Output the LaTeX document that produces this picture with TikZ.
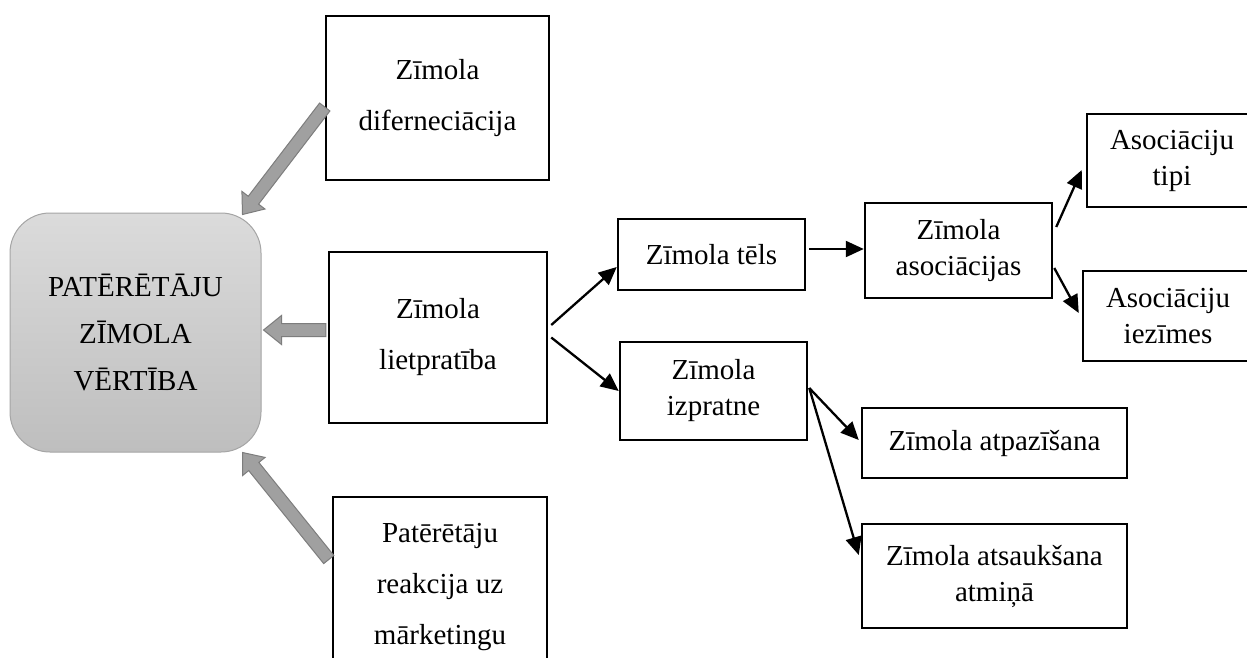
\documentclass[tikz,border=0pt]{standalone}
\usepackage{fontspec}
\setmainfont{Liberation Serif}
\usetikzlibrary{arrows.meta,calc}
\definecolor{cbvtop}{RGB}{219,219,219}
\definecolor{cbvbot}{RGB}{190,190,190}
\definecolor{cbvline}{RGB}{165,165,165}
\definecolor{garrfill}{RGB}{160,160,160}
\definecolor{garrline}{RGB}{125,125,125}
\newcommand{\blockarrow}[2]{%
  \coordinate (ga-t) at #1;
  \coordinate (ga-h) at #2;
  \coordinate (ga-b) at ($(ga-h)!18pt!(ga-t)$);
  \filldraw[blockarr] ($(ga-t)!6.5pt!90:(ga-h)$) -- ($(ga-b)!6.5pt!90:(ga-h)$) --
    ($(ga-b)!14.5pt!90:(ga-h)$) -- (ga-h) -- ($(ga-b)!14.5pt!-90:(ga-h)$) --
    ($(ga-b)!6.5pt!-90:(ga-h)$) -- ($(ga-t)!6.5pt!-90:(ga-h)$) -- cycle;}
\tikzset{
  box/.style={draw, line width=2.5pt, align=center, inner sep=0pt},
  fwide/.style={font=\fontsize{29}{51}\selectfont},
  fnarrow/.style={font=\fontsize{29}{36}\selectfont},
  blockarr/.style={fill=garrfill, draw=garrline, line width=1pt, line join=miter},
  conn/.style={line width=2.3pt, -{Triangle[length=18pt,width=16pt]}},
}
\begin{document}
\begin{tikzpicture}[x=1pt,y=-1pt]
\clip (0,0) rectangle (1247,658);
\fill[white] (0,0) rectangle (1247,658);

% central rounded box
\node[rounded corners=40pt, top color=cbvtop, bottom color=cbvbot, draw=cbvline,
  line width=1pt, minimum width=251pt, minimum height=239pt, align=center,
  font=\fontsize{29}{47}\selectfont] (cbv) at (135.5,332.5)
  {PATĒRĒTĀJU\\ZĪMOLA\\VĒRTĪBA};

% left-side inputs
\node[box, fwide, minimum width=223pt, minimum height=164pt] (diff) at (437.5,98)
  {Zīmola\\diferneciācija};
\node[box, fwide, minimum width=218pt, minimum height=171pt] (lp) at (438,337.5)
  {Zīmola\\lietpratība};
\node[box, fwide, minimum width=214pt, minimum height=180pt] (pr) at (440,587)
  {Patērētāju\\reakcija uz\\mārketingu};

% right branch
\node[box, fnarrow, minimum width=187pt, minimum height=71pt] (tels) at (711.5,254.5)
  {Zīmola tēls};
\node[box, fnarrow, minimum width=187pt, minimum height=98pt] (izp) at (713.5,391)
  {Zīmola\\izpratne};
\node[box, fnarrow, minimum width=187pt, minimum height=95pt] (asoc) at (958.5,250.5)
  {Zīmola\\asociācijas};
\node[box, fnarrow, minimum width=170pt, minimum height=93pt] (tipi) at (1172,160.5)
  {Asociāciju\\tipi};
\node[box, fnarrow, minimum width=170pt, minimum height=90pt] (iez) at (1168,316)
  {Asociāciju\\iezīmes};
\node[box, fnarrow, minimum width=265pt, minimum height=70pt] (atp) at (994.5,443)
  {Zīmola atpazīšana};
\node[box, fnarrow, minimum width=265pt, minimum height=104pt] (ats) at (994.5,576)
  {Zīmola atsaukšana\\atmiņā};

% gray block arrows into the central box
\blockarrow{([yshift=-9pt]diff.west)}{([xshift=-19pt,yshift=-2pt]cbv.north east)}
\blockarrow{([xshift=-2pt,yshift=7.5pt]lp.west)}{([xshift=2pt,yshift=2.5pt]cbv.east)}
\blockarrow{([xshift=-3pt,yshift=27.5pt]pr.west)}{([xshift=-19pt,yshift=0pt]cbv.south east)}

% black connectors
\draw[conn] ([xshift=3pt,yshift=12.5pt]lp.east) -- ([yshift=-12.5pt]tels.west);
\draw[conn] ([xshift=3pt]lp.east) -- (izp.west);
\draw[conn] ([xshift=3pt,yshift=5.5pt]tels.east) -- ([yshift=1.5pt]asoc.west);
\draw[conn] ([xshift=3pt,yshift=23.5pt]asoc.east) -- ([xshift=-4pt,yshift=-9.5pt]tipi.west);
\draw[conn] ([xshift=1pt,yshift=-17.5pt]asoc.east) -- ([xshift=-3pt,yshift=3pt]iez.west);
\draw[conn] ([xshift=1pt,yshift=3pt]izp.east) -- ([xshift=-2pt,yshift=3pt]atp.west);
\draw[conn] ([xshift=1pt,yshift=3pt]izp.east) -- ([xshift=-2pt,yshift=21pt]ats.west);
\end{tikzpicture}
\end{document}
